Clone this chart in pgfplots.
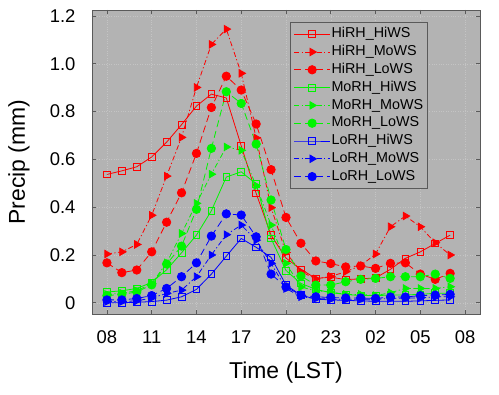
\documentclass[border=0pt]{standalone}
\usepackage{fontspec}
\setmainfont{Liberation Sans}
\usepackage{pgfplots}
\usepackage{pgfplotstable}
\pgfplotsset{compat=1.18}

\definecolor{bg}{RGB}{179,179,179}
\definecolor{framec}{RGB}{90,90,90}
\definecolor{gridc}{RGB}{196,196,196}
\definecolor{cr}{RGB}{255,0,0}
\definecolor{cg}{RGB}{0,245,0}
\definecolor{cb}{RGB}{0,0,255}

\pgfplotstableread{
t HH HM HL MH MM ML LH LM LL
0 0.537 0.204 0.167 0.045 0.035 0.030 0.000 0.005 0.012
1 0.552 0.213 0.126 0.050 0.040 0.035 0.000 0.005 0.012
2 0.569 0.244 0.137 0.060 0.050 0.045 0.002 0.008 0.018
3 0.610 0.366 0.213 0.085 0.080 0.075 0.005 0.020 0.030
4 0.672 0.530 0.337 0.138 0.167 0.162 0.011 0.039 0.060
5 0.745 0.692 0.460 0.209 0.290 0.237 0.025 0.053 0.109
6 0.823 0.901 0.625 0.283 0.416 0.391 0.056 0.109 0.167
7 0.873 1.081 0.817 0.385 0.538 0.646 0.120 0.200 0.279
8 0.857 1.145 0.948 0.526 0.652 0.883 0.195 0.285 0.372
9 0.657 0.960 0.890 0.548 0.638 0.834 0.269 0.325 0.367
10 0.458 0.690 0.748 0.497 0.490 0.664 0.232 0.262 0.276
11 0.283 0.398 0.557 0.269 0.325 0.430 0.190 0.165 0.120
12 0.187 0.210 0.357 0.135 0.165 0.223 0.074 0.060 0.066
13 0.140 0.130 0.249 0.081 0.066 0.112 0.032 0.025 0.032
14 0.102 0.100 0.175 0.056 0.050 0.074 0.015 0.018 0.025
15 0.107 0.110 0.164 0.042 0.045 0.074 0.012 0.015 0.022
16 0.097 0.130 0.150 0.035 0.035 0.088 0.010 0.015 0.020
17 0.100 0.155 0.154 0.030 0.035 0.098 0.008 0.015 0.020
18 0.104 0.204 0.144 0.030 0.030 0.102 0.006 0.015 0.018
19 0.140 0.318 0.165 0.032 0.042 0.109 0.006 0.018 0.024
20 0.186 0.363 0.167 0.033 0.060 0.109 0.006 0.020 0.024
21 0.213 0.318 0.120 0.035 0.060 0.109 0.008 0.020 0.030
22 0.248 0.251 0.098 0.040 0.060 0.120 0.010 0.025 0.032
23 0.283 0.200 0.123 0.040 0.067 0.102 0.012 0.025 0.035
}\data

\pgfplotsset{
  hiws/.style={solid, line width=0.8bp, mark=square, mark size=3.4bp,
    mark options={solid, fill=none, line width=0.8bp}},
  mows/.style={dash pattern=on 5bp off 2.5bp on 1.2bp off 2.5bp, line width=0.8bp,
    mark=triangle*, mark size=4.3bp, mark options={solid, rotate=-90}},
  lows/.style={dash pattern=on 7bp off 4bp, line width=0.8bp,
    mark=*, mark size=4.2bp, mark options={solid}},
}

\begin{document}
\begin{tikzpicture}
\begin{axis}[
  width=388bp, height=304bp, scale only axis,
  xmin=-1, xmax=25, ymin=-0.047, ymax=1.225,
  axis background/.style={fill=bg},
  xtick={0,3,6,9,12,15,18,21,24},
  xticklabels={08,11,14,17,20,23,02,05,08},
  ytick={0,0.2,0.4,0.6,0.8,1.0,1.2},
  yticklabels={0,0.2,0.4,0.6,0.8,1.0,1.2},
  /pgf/number format/assume math mode=true,
  tick align=inside, major tick length=4bp,
  tick style={framec, line width=0.6bp},
  axis line style={framec, line width=0.8bp},
  grid=major, grid style={gridc, dotted, line width=0.5bp},
  ticklabel style={font=\fontsize{18.5}{20}\selectfont},
  xticklabel style={yshift=-13bp},
  yticklabel style={xshift=-13bp},
  xlabel={Time (LST)}, ylabel={Precip (mm)},
  label style={font=\fontsize{23}{26}\selectfont},
  xlabel style={at={(axis description cs:0.5,-0.194)}, anchor=center},
  ylabel style={at={(axis description cs:-0.188,0.5)}, anchor=center},
  legend image code/.code={\draw[mark repeat=2,mark phase=2,#1] plot coordinates {(0bp,0bp) (18bp,0bp) (36bp,0bp)};},
  legend style={at={(0.866,0.9605)}, anchor=north east, fill=bg, draw=framec,
    line width=0.6bp, font=\fontsize{14.4}{16}\selectfont, cells={anchor=west},
    row sep=0pt, inner xsep=3.5bp, inner ysep=3bp,
    nodes={text height=10.5bp, text depth=3bp, inner ysep=2.15bp, inner xsep=1bp}},
]
\addplot[cr, hiws] table[x=t,y=HH] {\data};
\addlegendentry{HiRH\_HiWS}
\addplot[cr, mows] table[x=t,y=HM] {\data};
\addlegendentry{HiRH\_MoWS}
\addplot[cr, lows] table[x=t,y=HL] {\data};
\addlegendentry{HiRH\_LoWS}
\addplot[cg, hiws] table[x=t,y=MH] {\data};
\addlegendentry{MoRH\_HiWS}
\addplot[cg, mows] table[x=t,y=MM] {\data};
\addlegendentry{MoRH\_MoWS}
\addplot[cg, lows] table[x=t,y=ML] {\data};
\addlegendentry{MoRH\_LoWS}
\addplot[cb, hiws] table[x=t,y=LH] {\data};
\addlegendentry{LoRH\_HiWS}
\addplot[cb, mows] table[x=t,y=LM] {\data};
\addlegendentry{LoRH\_MoWS}
\addplot[cb, lows] table[x=t,y=LL] {\data};
\addlegendentry{LoRH\_LoWS}
\coordinate (bbsw) at (rel axis cs:-0.2371,-0.2632);
\coordinate (bbne) at (rel axis cs:1.049,1.0329);
\end{axis}
\pgfresetboundingbox
\path (bbsw) rectangle (bbne);
\end{tikzpicture}
\end{document}
